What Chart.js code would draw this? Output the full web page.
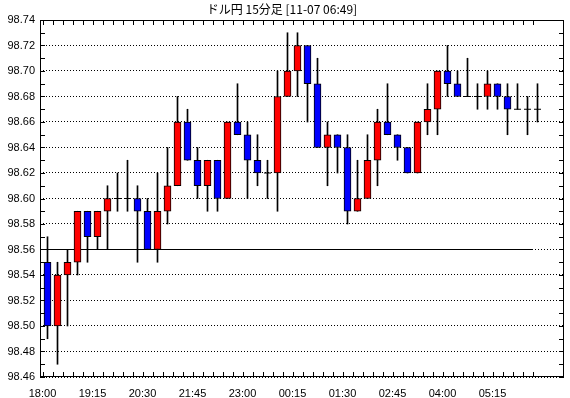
<!DOCTYPE html>
<html>
<head>
<meta charset="utf-8">
<title>ドル円 15分足</title>
<script src="https://cdn.jsdelivr.net/npm/chart.js@4.4.0/dist/chart.umd.min.js"></script>
<style>
  html, body { margin: 0; padding: 0; background: #fff; }
  #chart { display: block; }
</style>
</head>
<body>
<canvas id="chart" width="570" height="398"></canvas>
<script>
// Title and axis labels
var titleText = 'ドル円 15分足 [11-07 06:49]';
var timeLabels = ['18:00', '19:15', '20:30', '21:45', '23:00', '00:15', '01:30', '02:45', '04:00', '05:15'];
var priceTicks = [98.46, 98.48, 98.50, 98.52, 98.54, 98.56, 98.58, 98.60, 98.62, 98.64, 98.66, 98.68, 98.70, 98.72, 98.74];

// 15 minute candles
var openPrices = [98.55, 98.50, 98.54, 98.55, 98.59, 98.57, 98.59, 98.60, 98.60, 98.60,
                  98.59, 98.56, 98.59, 98.61, 98.66, 98.63, 98.61, 98.63, 98.60, 98.66,
                  98.65, 98.63, 98.62, 98.62, 98.68, 98.70, 98.72, 98.69, 98.64, 98.65,
                  98.64, 98.59, 98.60, 98.63, 98.66, 98.65, 98.64, 98.62, 98.66, 98.67,
                  98.70, 98.69, 98.68, 98.68, 98.68, 98.69, 98.68, 98.67, 98.67, 98.67];
var highPrices = [98.57, 98.55, 98.56, 98.59, 98.59, 98.59, 98.61, 98.62, 98.63, 98.61,
                  98.60, 98.62, 98.64, 98.68, 98.67, 98.64, 98.63, 98.63, 98.66, 98.69,
                  98.66, 98.65, 98.63, 98.70, 98.73, 98.73, 98.72, 98.71, 98.66, 98.65,
                  98.65, 98.63, 98.65, 98.67, 98.69, 98.65, 98.64, 98.66, 98.69, 98.70,
                  98.72, 98.70, 98.71, 98.69, 98.70, 98.69, 98.69, 98.69, 98.68, 98.69];
var lowPrices = [98.49, 98.47, 98.50, 98.54, 98.55, 98.56, 98.56, 98.59, 98.59, 98.55,
                 98.56, 98.55, 98.58, 98.61, 98.63, 98.60, 98.59, 98.59, 98.60, 98.65,
                 98.60, 98.61, 98.60, 98.59, 98.68, 98.68, 98.66, 98.64, 98.61, 98.62,
                 98.58, 98.59, 98.60, 98.61, 98.65, 98.63, 98.62, 98.62, 98.65, 98.65,
                 98.68, 98.68, 98.68, 98.67, 98.67, 98.67, 98.65, 98.67, 98.65, 98.66];
var closePrices = [98.50, 98.54, 98.55, 98.59, 98.57, 98.59, 98.60, 98.60, 98.60, 98.59,
                   98.56, 98.59, 98.61, 98.66, 98.63, 98.61, 98.63, 98.60, 98.66, 98.65,
                   98.63, 98.62, 98.62, 98.68, 98.70, 98.72, 98.69, 98.64, 98.65, 98.64,
                   98.59, 98.60, 98.63, 98.66, 98.65, 98.64, 98.62, 98.66, 98.67, 98.70,
                   98.69, 98.68, 98.68, 98.68, 98.69, 98.68, 98.67, 98.67, 98.67, 98.67];

// Horizontal reference level
var levelPrice = 98.56;

var upColor = '#ff0000';
var downColor = '#0000ff';

// Build the datasets
var bodies = [], wicks = [], dojis = [], bodyColors = [];
openPrices.forEach(function (o, i) {
    var c = closePrices[i];
    wicks.push({ x: i, y: [lowPrices[i], highPrices[i]] });
    bodies.push({ x: i, y: [o, c] });
    bodyColors.push(c >= o ? upColor : downColor);
    if (o === c) {
        dojis.push({ x: i, y: o });
    }
});

// Draws the box round the plot and the small inward tick marks
var framePlugin = {
    id: 'frame',
    afterDraw: function (chart) {
        var ctx = chart.ctx;
        var a = chart.chartArea;
        var xs = chart.scales.x, ys = chart.scales.y;
        ctx.save();
        ctx.strokeStyle = '#000';
        ctx.lineWidth = 1;
        ctx.strokeRect(Math.round(a.left) + 0.5, Math.round(a.top) + 0.5,
                       Math.round(a.right - a.left) - 1, Math.round(a.bottom - a.top) - 1);
        ctx.beginPath();
        // x ticks between candles
        for (var i = 0; i < openPrices.length; i++) {
            var px = Math.round(xs.getPixelForValue(i - 0.5)) + 0.5;
            ctx.moveTo(px, a.top);
            ctx.lineTo(px, a.top + 5);
            ctx.moveTo(px, a.bottom);
            ctx.lineTo(px, a.bottom - 5);
        }
        // y ticks at every 0.01
        for (var k = 0; k < priceTicks.length - 1; k++) {
            [priceTicks[k], (priceTicks[k] + priceTicks[k + 1]) / 2].forEach(function (v) {
                var py = Math.round(ys.getPixelForValue(v)) + 0.5;
                ctx.moveTo(a.left, py);
                ctx.lineTo(a.left + 5, py);
                ctx.moveTo(a.right, py);
                ctx.lineTo(a.right - 5, py);
            });
        }
        ctx.stroke();
        ctx.restore();
    }
};

var ctx = document.getElementById('chart').getContext('2d');
var myChart = new Chart(ctx, {
    type: 'bar',
    data: {
        datasets: [{
            type: 'scatter',
            data: dojis,
            pointStyle: 'line',
            pointRadius: 3.5,
            borderColor: '#000',
            borderWidth: 1,
            order: 0
        }, {
            data: bodies,
            backgroundColor: bodyColors,
            borderColor: '#000',
            borderWidth: 1,
            borderSkipped: false,
            barThickness: 7,
            grouped: false,
            order: 1
        }, {
            data: wicks,
            backgroundColor: '#000',
            borderWidth: 0,
            barThickness: 1,
            grouped: false,
            order: 2
        }, {
            type: 'line',
            data: [{ x: -0.75, y: levelPrice }, { x: openPrices.length - 1.5, y: levelPrice }],
            borderColor: '#000',
            borderWidth: 1,
            pointRadius: 0,
            order: 3
        }]
    },
    options: {
        responsive: false,
        animation: false,
        devicePixelRatio: 1,
        layout: { padding: { left: 0, right: 6, top: 0, bottom: 0 } },
        plugins: {
            legend: { display: false },
            tooltip: { enabled: false },
            title: {
                display: true,
                text: titleText,
                color: '#000',
                font: { family: "'Noto Sans CJK JP', 'Liberation Sans', sans-serif", size: 12, weight: 'normal', lineHeight: 1 },
                padding: { top: 3, bottom: 5 }
            }
        },
        scales: {
            x: {
                type: 'linear',
                min: -0.75,
                max: 51.65,
                offset: false,
                grid: { display: false },
                border: { display: false },
                afterBuildTicks: function (scale) {
                    scale.ticks = timeLabels.map(function (t, k) { return { value: k * 5 - 0.5 }; });
                },
                afterFit: function (scale) { scale.height = 21; },
                ticks: {
                    autoSkip: false,
                    maxRotation: 0,
                    padding: 2,
                    color: '#000',
                    font: { family: "'Liberation Sans', Arial, sans-serif", size: 11 },
                    callback: function (value) {
                        return timeLabels[Math.round((value + 0.5) / 5)];
                    }
                }
            },
            y: {
                type: 'linear',
                min: 98.46,
                max: 98.74,
                grid: { color: '#000', lineWidth: 1, drawTicks: false },
                border: { display: false, dash: [1, 2] },
                afterBuildTicks: function (scale) {
                    scale.ticks = priceTicks.map(function (v) { return { value: v }; });
                },
                afterFit: function (scale) { scale.width = 40; },
                ticks: {
                    padding: 5,
                    color: '#000',
                    font: { family: "'Liberation Sans', Arial, sans-serif", size: 11 },
                    callback: function (value) { return value.toFixed(2); }
                }
            }
        }
    },
    plugins: [framePlugin]
});
</script>
</body>
</html>
